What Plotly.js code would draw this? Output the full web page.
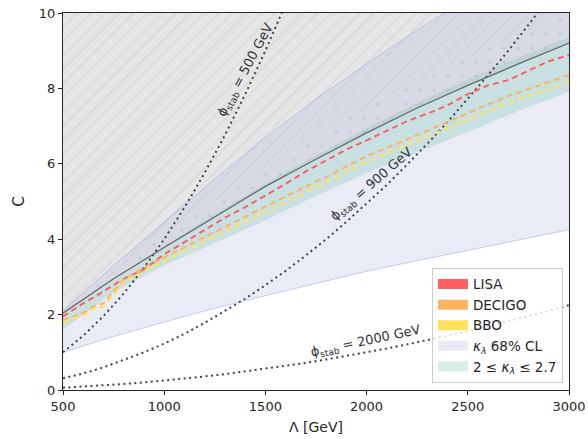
<!DOCTYPE html>
<html>
<head>
<meta charset="utf-8">
<script src="https://cdn.plot.ly/plotly-3.0.1.min.js"></script>
<style>html,body{margin:0;padding:0;background:#fff;}#chart{width:588px;height:439px;}</style>
</head>
<body>
<div id="chart"></div>
<script>
// ---- data ----
const LAMBDA = [500, 750, 1000, 1250, 1500, 1750, 2000, 2250, 2500, 2750, 3000];
const C_SOLID = [2.04, 2.95, 3.78, 4.6, 5.4, 6.12, 6.82, 7.48, 8.08, 8.65, 9.2];
const C_HATCH_EDGE = [2.1, 3.15, 4.1, 5.0, 5.9, 6.75, 7.5, 8.15, 8.8, 9.45, 10.1];
const KL68_LOW = [1.0, 1.42, 1.8, 2.17, 2.5, 2.83, 3.15, 3.43, 3.7, 3.98, 4.25];
const KL68_HIGH = [2.1, 3.3, 4.45, 5.6, 6.7, 7.72, 8.65, 9.55, 10.4, 11.2, 12.0];
const KLBAND_LOW = [1.6, 2.6, 3.3, 3.9, 4.5, 5.15, 5.75, 6.3, 6.85, 7.4, 7.92];
const KLBAND_HIGH = [2.02, 2.97, 3.82, 4.66, 5.47, 6.22, 6.94, 7.62, 8.24, 8.82, 9.36];

const DASH_LAMBDA = [500, 600, 650, 700, 750, 800, 900, 1000, 1100, 1200, 1300, 1400, 1500, 1600,
  1700, 1800, 1900, 2000, 2100, 2200, 2300, 2400, 2500, 2600, 2700, 2800, 2900, 3000];
const LISA_C = [1.95, 2.3, 2.45, 2.62, 2.8, 2.95, 3.2, 3.6, 3.92, 4.25, 4.57, 4.85, 5.15, 5.47,
  5.8, 6.08, 6.38, 6.62, 6.88, 7.13, 7.33, 7.55, 7.85, 8.08, 8.22, 8.47, 8.72, 8.88];
const DECIGO_C = [1.85, 2.05, 2.22, 2.3, 2.62, 2.93, 3.25, 3.52, 3.78, 4.05, 4.33, 4.6, 4.87, 5.12,
  5.4, 5.65, 5.92, 6.2, 6.42, 6.65, 6.88, 7.1, 7.33, 7.55, 7.8, 7.98, 8.18, 8.36];
const BBO_C = [1.8, 1.98, 2.15, 2.22, 2.52, 2.85, 3.15, 3.42, 3.68, 3.94, 4.2, 4.47, 4.73, 4.98,
  5.25, 5.5, 5.77, 6.05, 6.28, 6.5, 6.72, 6.95, 7.17, 7.4, 7.62, 7.8, 8.0, 8.17];

const PHI_LAMBDA = [500, 600, 700, 800, 900, 1000, 1100, 1200, 1300, 1400, 1500, 1600, 1700, 1800,
  1900, 2000, 2100, 2200, 2300, 2400, 2500, 2600, 2700, 2800, 2900, 3000];
const PHI500_C = [1.0, 1.44, 1.96, 2.56, 3.24, 4.0, 4.84, 5.76, 6.76, 7.84, 9.0, 10.24];
const PHI900_C = [0.31, 0.44, 0.6, 0.79, 1.0, 1.23, 1.49, 1.78, 2.09, 2.42, 2.78, 3.16, 3.57, 4.0,
  4.46, 4.94, 5.44, 5.98, 6.53, 7.11, 7.72, 8.35, 9.0, 9.68, 10.38];
const PHI2000_C = [0.06, 0.09, 0.12, 0.16, 0.2, 0.25, 0.3, 0.36, 0.42, 0.49, 0.56, 0.64, 0.72, 0.81,
  0.9, 1.0, 1.1, 1.21, 1.32, 1.44, 1.56, 1.69, 1.82, 1.96, 2.1, 2.25];

const X_TICKS = [500, 1000, 1500, 2000, 2500, 3000];
const Y_TICKS = [0, 2, 4, 6, 8, 10];
const LEGEND_NAMES = ['LISA', 'DECIGO', 'BBO', '<i>κ</i><sub><i>λ</i></sub> 68% CL', '2 ≤ <i>κ</i><sub><i>λ</i></sub> ≤ 2.7'];
const PHI_LABELS = ['ϕ<sub>stab</sub> = 500 GeV', 'ϕ<sub>stab</sub> = 900 GeV', 'ϕ<sub>stab</sub> = 2000 GeV'];
const PHI_LABEL_AT = [[1424, 8.44], [2046, 5.33], [1997, 1.25]];

// ---- styling ----
const Y_MAX = 10;
const TOP = LAMBDA.map(() => Y_MAX + 0.5);
const GRAY = '#e6e6e6';
const LAV = 'rgba(176,184,222,0.28)';
const TEAL = 'rgba(130,200,180,0.30)';
const RED = '#ff5f5f', ORANGE = '#ffb35e', YELLOW = '#ffe35a';

const traces = [];
function hidden(x, y) {
  return {x, y, mode: 'lines', line: {width: 0, color: 'rgba(0,0,0,0)'}, showlegend: false, hoverinfo: 'skip'};
}
// gray excluded region above the solid line
traces.push(hidden(LAMBDA, C_SOLID));
traces.push(Object.assign(hidden(LAMBDA, TOP), {fill: 'tonexty', fillcolor: GRAY}));
// hatch above hatch edge
traces.push(hidden(LAMBDA, C_HATCH_EDGE));
traces.push(Object.assign(hidden(LAMBDA, TOP), {fill: 'tonexty', fillcolor: 'rgba(0,0,0,0)',
  fillpattern: {shape: '/', size: 10, solidity: 0.1, fgcolor: 'rgba(165,165,170,0.5)', bgcolor: 'rgba(0,0,0,0)', fillmode: 'overlay'}}));
// dots between solid line and hatch edge
traces.push(hidden(LAMBDA, C_SOLID));
traces.push(Object.assign(hidden(LAMBDA, C_HATCH_EDGE), {fill: 'tonexty', fillcolor: 'rgba(0,0,0,0)',
  fillpattern: {shape: '.', size: 14, solidity: 0.04, fgcolor: 'rgba(145,145,160,0.6)', bgcolor: 'rgba(0,0,0,0)', fillmode: 'overlay'}}));
// kappa 68% CL band
traces.push({x: LAMBDA, y: KL68_LOW, mode: 'lines', line: {width: 0.8, color: 'rgba(150,160,215,0.6)'}, showlegend: false, hoverinfo: 'skip'});
traces.push({x: LAMBDA, y: KL68_HIGH, mode: 'lines', line: {width: 0.8, color: 'rgba(150,160,215,0.6)'}, fill: 'tonexty', fillcolor: LAV, showlegend: false, hoverinfo: 'skip'});
// 2 <= kappa <= 2.7 band
traces.push(hidden(LAMBDA, KLBAND_LOW));
traces.push(Object.assign(hidden(LAMBDA, KLBAND_HIGH), {fill: 'tonexty', fillcolor: TEAL}));
// phi_stab dotted contours
[PHI500_C, PHI900_C, PHI2000_C].forEach((c) => {
  traces.push({x: PHI_LAMBDA.slice(0, c.length), y: c, mode: 'lines',
    line: {color: '#444', width: 2, dash: '2px,3.5px'}, showlegend: false, hoverinfo: 'skip'});
});
// solid boundary
traces.push({x: LAMBDA, y: C_SOLID, mode: 'lines', line: {color: '#6a6a6a', width: 1.3}, showlegend: false, hoverinfo: 'skip'});
// detector dashed curves
[[LISA_C, RED], [DECIGO_C, ORANGE], [BBO_C, YELLOW]].forEach(([c, col]) => {
  traces.push({x: DASH_LAMBDA, y: c, mode: 'lines', line: {color: col, width: 2, dash: '6px,4px'}, showlegend: false, hoverinfo: 'skip'});
});
// legend entries (patches)
[RED, ORANGE, YELLOW, 'rgb(232,234,244)', 'rgb(218,238,232)'].forEach((col, i) => {
  traces.push({x: [null], y: [null], mode: 'lines',
    line: {width: 10, color: col}, name: LEGEND_NAMES[i], showlegend: true, hoverinfo: 'skip'});
});

const axisCommon = {
  showline: true, linecolor: '#262626', linewidth: 1, mirror: true,
  ticks: 'outside', ticklen: 4, tickwidth: 1, tickcolor: '#262626',
  showgrid: false, zeroline: false, tickfont: {size: 13, color: '#262626'}
};

const shifts = [[-4.5, 1.5], [-4, 4.5], [0, 1]];
const rot = [-62, -41, -12];

const layout = {
  width: 588, height: 439,
  margin: {l: 63, r: 19, t: 13, b: 49},
  paper_bgcolor: '#fff', plot_bgcolor: '#fff',
  font: {family: 'DejaVu Sans, sans-serif', color: '#262626'},
  showlegend: true,
  xaxis: Object.assign({}, axisCommon, {range: [500, 3000], tickvals: X_TICKS,
    title: {text: 'Λ [GeV]', font: {size: 14}, standoff: 9}}),
  yaxis: Object.assign({}, axisCommon, {range: [0, Y_MAX], tickvals: Y_TICKS,
    title: {text: 'C', font: {size: 15}, standoff: 10}}),
  legend: {x: 0.988, y: 0.019, xanchor: 'right', yanchor: 'bottom',
    bgcolor: 'rgba(255,255,255,0.8)', bordercolor: '#cccccc', borderwidth: 1,
    font: {size: 13.5, color: '#262626'}, traceorder: 'normal', itemwidth: 30},
  annotations: PHI_LABELS.map((t, i) => ({
    x: PHI_LABEL_AT[i][0], y: PHI_LABEL_AT[i][1], text: t, textangle: rot[i],
    xshift: shifts[i][0], yshift: shifts[i][1],
    xref: 'x', yref: 'y', showarrow: false, font: {size: 13, color: '#333'}
  }))
};

Plotly.newPlot('chart', traces, layout, {staticPlot: true, displayModeBar: false});
</script>
</body>
</html>
